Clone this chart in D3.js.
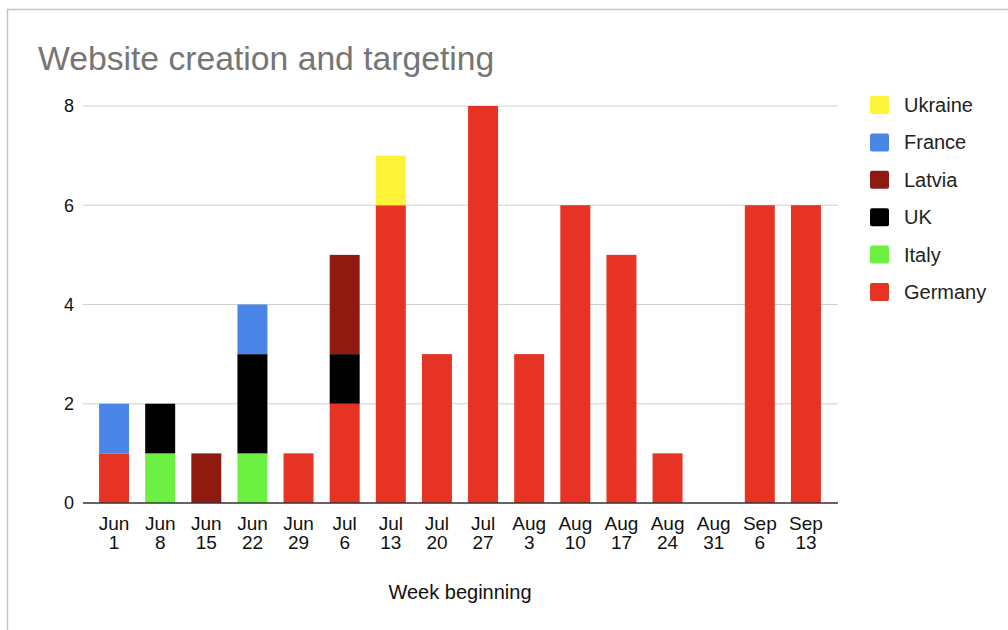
<!DOCTYPE html>
<html>
<head>
<meta charset="utf-8">
<script src="https://cdn.jsdelivr.net/npm/d3@7"></script>
<style>
  body { margin: 0; background: #fff; }
  svg { display: block; font-family: "Liberation Sans", Arial, sans-serif; }
</style>
</head>
<body>
<svg width="1008" height="630"></svg>
<script>
// weeks (two line tick labels)
var WEEKS = ["Jun 1", "Jun 8", "Jun 15", "Jun 22", "Jun 29", "Jul 6", "Jul 13", "Jul 20",
  "Jul 27", "Aug 3", "Aug 10", "Aug 17", "Aug 24", "Aug 31", "Sep 6", "Sep 13"];

// stack order, bottom to top
var COUNTRIES = ["Germany", "Italy", "UK", "Latvia", "France", "Ukraine"];
var COLORS = ["#e63323", "#6cf142", "#000000", "#8f1b10", "#4a86e8", "#fff33a"];

var GERMANY = [1, 0, 0, 0, 1, 2, 6, 3, 8, 3, 6, 5, 1, 0, 6, 6];
var ITALY   = [0, 1, 0, 1, 0, 0, 0, 0, 0, 0, 0, 0, 0, 0, 0, 0];
var UK      = [0, 1, 0, 2, 0, 1, 0, 0, 0, 0, 0, 0, 0, 0, 0, 0];
var LATVIA  = [0, 0, 1, 0, 0, 2, 0, 0, 0, 0, 0, 0, 0, 0, 0, 0];
var FRANCE  = [1, 0, 0, 1, 0, 0, 0, 0, 0, 0, 0, 0, 0, 0, 0, 0];
var UKRAINE = [0, 0, 0, 0, 0, 0, 1, 0, 0, 0, 0, 0, 0, 0, 0, 0];

var Y_TICKS = [0, 2, 4, 6, 8];

var SERIES = [GERMANY, ITALY, UK, LATVIA, FRANCE, UKRAINE];
var rows = WEEKS.map(function (w, i) {
  var r = { week: w };
  COUNTRIES.forEach(function (c, j) { r[c] = SERIES[j][i]; });
  return r;
});

var svg = d3.select("svg");

// card border (top and left edges visible)
svg.append("path")
  .attr("d", "M7.5,630 L7.5,9.5 L1008,9.5")
  .attr("fill", "none")
  .attr("stroke", "#c4c4c4")
  .attr("stroke-width", 1.5);

var xScale = d3.scaleBand()
  .domain(WEEKS)
  .range([91, 829])
  .paddingInner(0.35)
  .paddingOuter(0.175);

var yScale = d3.scaleLinear().domain([0, 8]).range([503, 106]);

// title
svg.append("text")
  .attr("x", 38)
  .attr("y", 70)
  .style("font-size", "33.7px")
  .style("fill", "#757575")
  .text("Website creation and targeting");

// gridlines
svg.append("g").selectAll("line")
  .data(Y_TICKS.filter(function (d) { return d > 0; }))
  .enter().append("line")
  .attr("x1", 83).attr("x2", 838)
  .attr("y1", function (d) { return yScale(d); })
  .attr("y2", function (d) { return yScale(d); })
  .attr("stroke", "#d0d0d0")
  .attr("stroke-width", 1);

// y tick labels
var yAxis = d3.axisLeft(yScale).tickValues(Y_TICKS).tickSize(0).tickPadding(0);
var yG = svg.append("g").attr("transform", "translate(74,0)").call(yAxis);
yG.select(".domain").remove();
yG.selectAll("text")
  .style("font-size", "18px")
  .style("font-family", "'Liberation Sans', Arial, sans-serif")
  .attr("fill", "#111");

// stacked bars
var stack = d3.stack().keys(COUNTRIES)(rows);
svg.append("g").selectAll("g")
  .data(stack)
  .enter().append("g")
  .attr("fill", function (d, i) { return COLORS[i]; })
  .selectAll("rect")
  .data(function (d) { return d; })
  .enter().append("rect")
  .filter(function (d) { return d[1] > d[0]; })
  .attr("x", function (d) { return xScale(d.data.week); })
  .attr("width", xScale.bandwidth())
  .attr("y", function (d) { return yScale(d[1]); })
  .attr("height", function (d) { return yScale(d[0]) - yScale(d[1]); });

// baseline
svg.append("line")
  .attr("x1", 83).attr("x2", 838)
  .attr("y1", yScale(0)).attr("y2", yScale(0))
  .attr("stroke", "#333")
  .attr("stroke-width", 1.5);

// x tick labels, two lines each
var xAxis = d3.axisBottom(xScale).tickSize(0).tickFormat("");
var xG = svg.append("g").attr("transform", "translate(0," + yScale(0) + ")").call(xAxis);
xG.select(".domain").remove();
xG.selectAll(".tick").append("text")
  .attr("text-anchor", "middle")
  .attr("fill", "#111")
  .style("font-size", "19px")
  .style("font-family", "'Liberation Sans', Arial, sans-serif")
  .selectAll("tspan")
  .data(function (d) { return d.split(" "); })
  .enter().append("tspan")
  .attr("x", 0)
  .attr("y", function (d, i) { return 27 + i * 19; })
  .text(function (d) { return d; });

// x axis title
svg.append("text")
  .attr("x", 460)
  .attr("y", 599)
  .attr("text-anchor", "middle")
  .style("font-size", "20px")
  .style("fill", "#111")
  .text("Week beginning");

// legend (top to bottom is reverse of stack)
var legendItems = COUNTRIES.map(function (c, i) { return { name: c, color: COLORS[i] }; }).reverse();
var legend = svg.append("g").selectAll("g")
  .data(legendItems)
  .enter().append("g")
  .attr("transform", function (d, i) { return "translate(870," + (105 + i * 37.4) + ")"; });

legend.append("rect")
  .attr("x", 0).attr("y", -9)
  .attr("width", 19).attr("height", 18)
  .attr("rx", 2)
  .attr("fill", function (d) { return d.color; });

legend.append("text")
  .attr("x", 34)
  .attr("y", 7)
  .style("font-size", "20px")
  .style("fill", "#222")
  .text(function (d) { return d.name; });
</script>
</body>
</html>
